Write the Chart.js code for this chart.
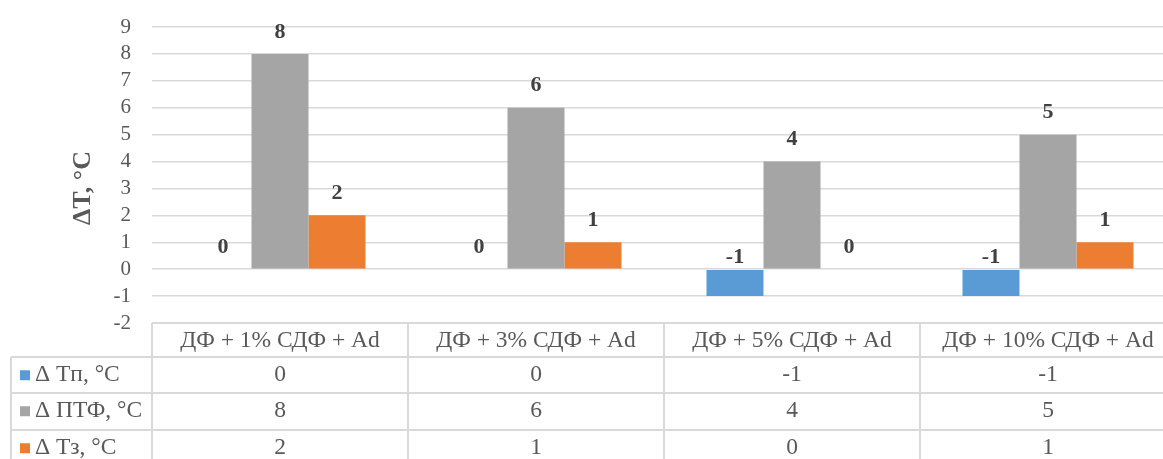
<!DOCTYPE html>
<html>
<head>
<meta charset="utf-8">
<script src="https://cdn.jsdelivr.net/npm/chart.js@4/dist/chart.umd.min.js"></script>
<style>
  html, body { margin: 0; padding: 0; background: #fff; overflow: hidden; }
  #wrap { width: 1176px; height: 459px; }
</style>
</head>
<body>
<div id="wrap"><canvas id="c" width="1176" height="459"></canvas></div>
<script>
// Formulations (columns of the data table)
const categories = ['ДФ + 1% СДФ + Ad', 'ДФ + 3% СДФ + Ad', 'ДФ + 5% СДФ + Ad', 'ДФ + 10% СДФ + Ad'];
// Series names and values, °C
const seriesNames = ['Δ Tп, °C', 'Δ ПТФ, °C', 'Δ Tз, °C'];
const dTp  = [0, 0, -1, -1];
const dPTF = [8, 6, 4, 5];
const dTz  = [2, 1, 0, 1];
const seriesColors = ['#5B9BD5', '#A5A5A5', '#ED7D31'];
const yTicks = [-2, -1, 0, 1, 2, 3, 4, 5, 6, 7, 8, 9];
const yTitle = 'ΔT, °C';

const FONT = "'Liberation Serif', 'Times New Roman', serif";
const LINE = '#d9d9d9';
const TEXT = '#595959';

// Bold value labels above each bar
const valueLabels = {
  id: 'valueLabels',
  afterDatasetsDraw(chart) {
    const ctx = chart.ctx;
    const y = chart.scales.y;
    ctx.save();
    ctx.font = 'bold 22px ' + FONT;
    ctx.fillStyle = '#404040';
    ctx.textAlign = 'center';
    ctx.textBaseline = 'middle';
    chart.data.datasets.forEach((ds, di) => {
      const meta = chart.getDatasetMeta(di);
      meta.data.forEach((bar, i) => {
        const v = ds.data[i];
        const py = v >= 0 ? y.getPixelForValue(v) - 22 : y.getPixelForValue(0) - 12;
        ctx.fillText(String(v), bar.x, py);
      });
    });
    ctx.restore();
  }
};

// Axis title and the data table under the plot
const dataTable = {
  id: 'dataTable',
  afterDraw(chart) {
    const ctx = chart.ctx;
    const area = chart.chartArea;
    const x = chart.scales.x;
    const W = chart.width, H = chart.height;
    const n = categories.length;
    const step = (area.right - area.left) / n;
    const headTop = area.bottom;
    const rowTops = [headTop + 34, headTop + 70, headTop + 107];
    const rowH = 36.5;
    const legendLeft = 11;

    ctx.save();
    // y axis title
    ctx.translate(83, 188);
    ctx.rotate(-Math.PI / 2);
    ctx.font = 'bold 26px ' + FONT;
    ctx.fillStyle = TEXT;
    ctx.textAlign = 'center';
    ctx.textBaseline = 'middle';
    ctx.fillText(yTitle, 0, 0);
    ctx.restore();

    ctx.save();
    ctx.strokeStyle = LINE;
    ctx.lineWidth = 2;
    ctx.beginPath();
    // horizontal rules
    ctx.moveTo(area.left, headTop); ctx.lineTo(W, headTop);
    rowTops.forEach(t => { ctx.moveTo(legendLeft, t); ctx.lineTo(W, t); });
    // vertical rules
    for (let k = 0; k <= n; k++) {
      const vx = area.left + k * step;
      ctx.moveTo(vx, headTop); ctx.lineTo(vx, H);
    }
    ctx.moveTo(legendLeft, rowTops[0]); ctx.lineTo(legendLeft, H);
    ctx.stroke();

    ctx.font = '23.5px ' + FONT;
    ctx.fillStyle = TEXT;
    ctx.textAlign = 'center';
    ctx.textBaseline = 'middle';
    categories.forEach((c, i) => {
      ctx.fillText(c, x.getPixelForValue(i), headTop + 17.5);
    });
    const rows = [dTp, dPTF, dTz];
    rows.forEach((vals, r) => {
      const cy = rowTops[r] + rowH / 2;
      vals.forEach((v, i) => {
        ctx.fillText(String(v), x.getPixelForValue(i), cy);
      });
      ctx.fillStyle = seriesColors[r];
      ctx.fillRect(20, cy - 5, 10, 10);
      ctx.fillStyle = TEXT;
      ctx.textAlign = 'left';
      ctx.fillText(seriesNames[r], 35, cy);
      ctx.textAlign = 'center';
    });
    ctx.restore();
  }
};

new Chart(document.getElementById('c'), {
  type: 'bar',
  data: {
    labels: categories,
    datasets: [
      { label: seriesNames[0], data: dTp,  backgroundColor: seriesColors[0] },
      { label: seriesNames[1], data: dPTF, backgroundColor: seriesColors[1] },
      { label: seriesNames[2], data: dTz,  backgroundColor: seriesColors[2] }
    ]
  },
  options: {
    responsive: false,
    animation: false,
    events: [],
    layout: { padding: { top: 27, bottom: 136, left: 0, right: 0 } },
    datasets: { bar: { categoryPercentage: 0.668, barPercentage: 1.0, borderWidth: 0 } },
    plugins: { legend: { display: false }, tooltip: { enabled: false } },
    scales: {
      x: { display: false },
      y: {
        min: yTicks[0],
        max: yTicks[yTicks.length - 1],
        afterBuildTicks(scale) { scale.ticks = yTicks.map(v => ({ value: v })); },
        afterFit(scale) { scale.width = 152; scale.paddingTop = 0; scale.paddingBottom = 0; },
        border: { display: false },
        grid: { color: LINE, lineWidth: 1.5, drawTicks: false },
        ticks: { autoSkip: false, padding: 21, color: TEXT, font: { family: FONT, size: 21 } }
      }
    }
  },
  plugins: [valueLabels, dataTable]
});
</script>
</body>
</html>
